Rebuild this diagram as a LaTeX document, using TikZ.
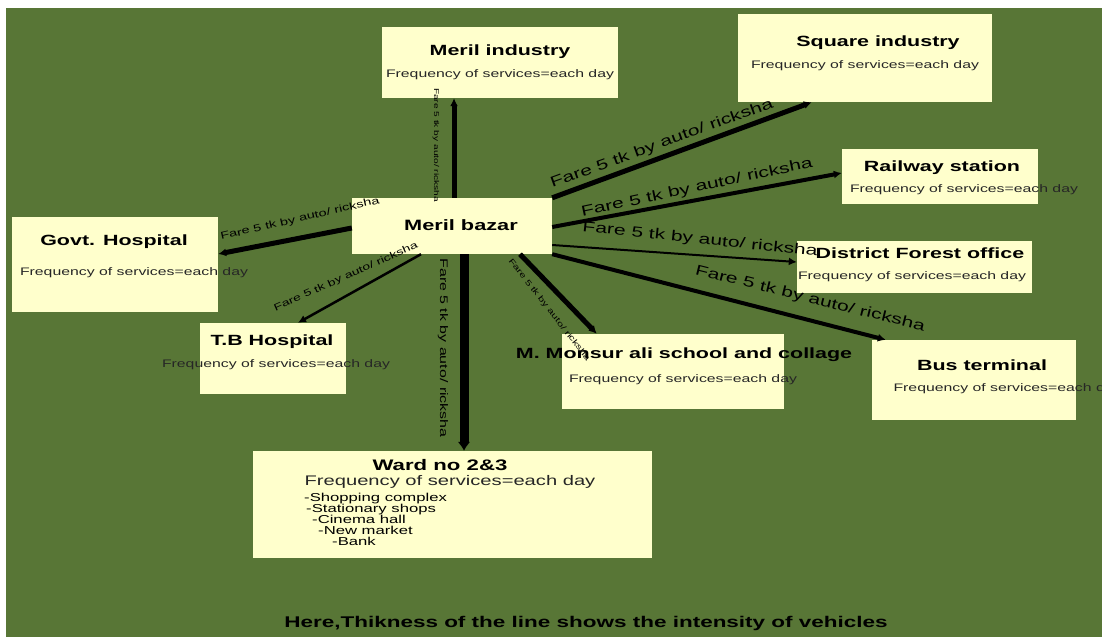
\documentclass[tikz,border=0pt]{standalone}
\usepackage{fontspec}
\setmainfont{Liberation Sans}[FakeStretch=1.45]
\usetikzlibrary{arrows.meta}
\definecolor{fieldgreen}{RGB}{88,118,54}
\definecolor{notepaper}{RGB}{255,255,204}
\newcommand{\fare}{Fare 5 tk by auto/ ricksha}
\newcommand{\freq}{Frequency of services=each day}

\begin{document}
\begin{tikzpicture}[x=1pt, y=-1pt]
  \tikzset{
    place/.style={fill=notepaper, inner sep=0pt},
    title/.style={font=\fontsize{14.8}{16}\selectfont\bfseries},
    sub/.style={font=\fontsize{10.9}{12}\selectfont, text=black!85},
    fare/.style={font=\fontsize{#1}{#1}\selectfont, inner sep=0pt},
    road/.style={line width=#1, -{Latex[length=8pt, width=8pt]}}
  }
  \useasboundingbox (0,0) rectangle (1102,637);
  \clip (0,0) rectangle (1102,637);
  \fill[white] (0,0) rectangle (1102,637);
  \fill[fieldgreen] (6,8) rectangle (1102,637);

  \node[place, minimum width=200, minimum height=56] (mb) at (452,226) {};
  \node[place, minimum width=236, minimum height=71] (mi) at (500,62.5) {};
  \node[place, minimum width=254, minimum height=88] (sq) at (865,58) {};
  \node[place, minimum width=196, minimum height=55] (rw) at (940,176.5) {};
  \node[place, minimum width=235, minimum height=52] (df) at (914.5,267) {};
  \node[place, minimum width=204, minimum height=80] (bt) at (974,380) {};
  \node[place, minimum width=222, minimum height=75] (ms) at (673,371.5) {};
  \node[place, minimum width=399, minimum height=107] (wd) at (452.5,504.5) {};
  \node[place, minimum width=146, minimum height=71] (tb) at (273,358.5) {};
  \node[place, minimum width=206, minimum height=95] (gh) at (115,264.5) {};

  \draw[road=5pt] ([xshift=2pt]mb.north) -- ([xshift=2pt]mb.north |- mi.south);
  \draw[road=9pt, -{Latex[length=9pt, width=13pt]}] ([xshift=12pt]mb.south) -- ([xshift=12pt]mb.south |- wd.north);
  \draw[road=5pt] ([yshift=-2pt]mb.west) -- ([yshift=10.5pt]gh.east);
  \draw[road=2.5pt] ([xshift=-31pt]mb.south) -- ([xshift=25pt]tb.north);
  \draw[road=5pt] (mb.north east) -- ([xshift=74pt]sq.south west);
  \draw[road=4pt] ([yshift=-1pt]mb.east) -- ([yshift=3.5pt]rw.west);
  \draw[road=2pt] ([yshift=-19pt]mb.east) -- ([yshift=5pt]df.west);
  \draw[road=4pt] (mb.south east) -- ([xshift=14pt]bt.north west);
  \draw[road=5pt] ([xshift=68pt]mb.south) -- ([xshift=35pt]ms.north west);

  \node[title, font=\fontsize{15}{16}\selectfont\bfseries] (mb-t) at (461,225) {Meril bazar};
  \node[title] (mi-t) at (500,52) {Meril industry};
  \node[sub] (mi-s) at (500,75) {\freq};
  \node[title] (sq-t) at (878,43) {Square industry};
  \node[sub] (sq-s) at (865,66) {\freq};
  \node[title] (rw-t) at (942,168) {Railway station};
  \node[sub] (rw-s) at (964,190) {\freq};
  \node[title] (df-t) at (920,253) {District Forest office};
  \node[sub] (df-s) at (912,277) {\freq};
  \node[title] (bt-t) at (982,365) {Bus terminal};
  \node[sub, anchor=west] (bt-s) at (890,389) {\freq};
  \node[title] (ms-t) at (684,355) {M. Monsur ali school and collage};
  \node[sub] (ms-s) at (683,380) {\freq};
  \node[title, font=\fontsize{15.3}{16}\selectfont\bfseries] (wd-t) at (440,465) {Ward no 2\&3};
  \node[sub, font=\fontsize{13.9}{15}\selectfont] (wd-s) at (450,482) {\freq};
  \node[anchor=north west, align=left, inner sep=0pt, font=\fontsize{11.5}{11}\selectfont] (wd-l) at (304,493)
    {-Shopping complex\\\hspace*{2pt}-Stationary shops\\\hspace*{8pt}-Cinema hall\\\hspace*{14pt}-New market\\\hspace*{28pt}-Bank};
  \node[title] (tb-t) at (272,342) {T.B Hospital};
  \node[sub] (tb-s) at (276,365) {\freq};
  \node[title] (gh-t) at (114,242) {Govt. Hospital};
  \node[sub] (gh-s) at (134,273) {\freq};

  \node[fare=7, rotate=-90] (f1) at (436,145) {\fare};
  \node[fare=11, rotate=-90] (f2) at (443,348) {\fare};
  \node[fare=10, rotate=13] (f3) at (300,219) {\fare};
  \node[fare=9.6, rotate=24] (f4) at (346,277) {\fare};
  \node[fare=14.5, rotate=20] (f5) at (662,144) {\fare};
  \node[fare=14.5, rotate=12] (f6) at (697,188) {\fare};
  \node[fare=14.5, rotate=-6] (f7) at (700,240) {\fare};
  \node[fare=14.5, rotate=-14] (f8) at (810,299) {\fare};
  \node[fare=7.8, rotate=-52] (f9) at (549,310) {\fare};

  \node[title, font=\fontsize{15.5}{16}\selectfont\bfseries] (note) at (586,623) {Here,Thikness of the line shows the intensity of vehicles};
\end{tikzpicture}
\end{document}
